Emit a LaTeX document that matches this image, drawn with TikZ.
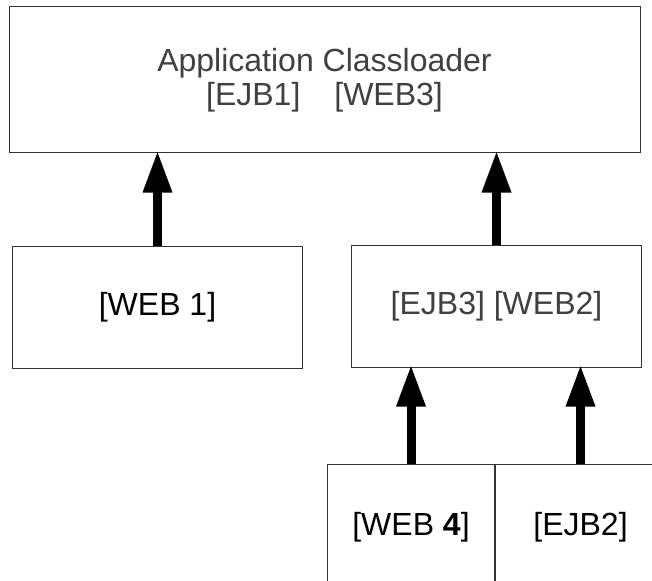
\documentclass[tikz,border=0pt]{standalone}
\usepackage{fontspec}
\setmainfont{Liberation Sans}
\usetikzlibrary{arrows.meta}
\usetikzlibrary{positioning}
\tikzset{>={Triangle[length=42pt,width=27pt]}}
\tikzset{loader/.style={draw=black!80, line width=1pt, rectangle, minimum width=290pt, minimum height=122pt, inner sep=0pt, font=\fontsize{32}{34}\selectfont, text=black!75}}
\tikzset{parent/.style={->, line width=9pt, color=black, shorten >=-3pt}}

\begin{document}
\begin{tikzpicture}[x=1pt, y=-1pt]
        \useasboundingbox (0,0) rectangle (652,580);
        \clip (0,0) rectangle (652,580);
        \node [loader, minimum width=631pt, minimum height=146pt, align=center] (AppLoader) at (324.5,80) {Application Classloader\\{}[EJB1]\hspace{34pt}[WEB3]};
        \node [loader, text=black] (WebOne) at (157.5,307.5) {[WEB 1]};
        \node [loader] (EjbThreeWebTwo) at (496.5,306) {[EJB3] [WEB2]};
        \node [loader, minimum width=167pt, minimum height=126pt, anchor=north west, text=black] (WebFour) at (327,464) {[WEB \textbf{4}]};
        \node [loader, minimum width=170pt, minimum height=126pt, right=0pt of WebFour, text=black] (EjbTwo) {[EJB2]};
        \draw [parent] (WebOne.north) -- (WebOne.north |- AppLoader.south);
        \draw [parent] (EjbThreeWebTwo.north) -- (EjbThreeWebTwo.north |- AppLoader.south);
        \draw [parent] (WebFour.north) -- (WebFour.north |- EjbThreeWebTwo.south);
        \draw [parent] (EjbTwo.north) -- (EjbTwo.north |- EjbThreeWebTwo.south);
    \end{tikzpicture}
\end{document}
